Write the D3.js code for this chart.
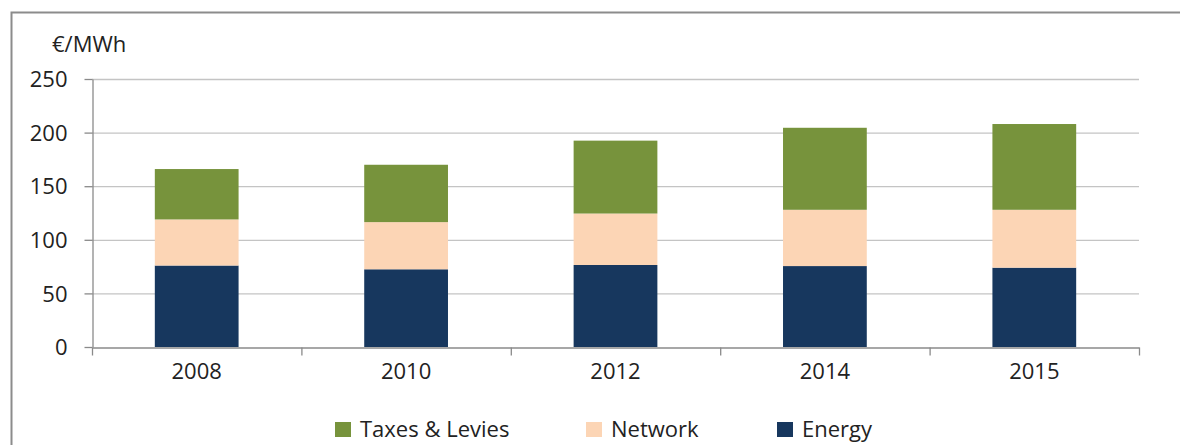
<!DOCTYPE html>
<html>
<head>
<meta charset="utf-8">
<script src="https://cdn.jsdelivr.net/npm/d3@7"></script>
<style>
  html, body { margin: 0; padding: 0; background: #fff; }
  svg { display: block; }
  text { font-family: "Open Sans", "Lato", sans-serif; fill: #222; }
</style>
</head>
<body>
<svg id="chart" width="1180" height="445"></svg>
<script>
const years = ["2008", "2010", "2012", "2014", "2015"];
const energy = [76, 72.5, 76.5, 75.5, 74];
const network = [43, 44, 48, 52.5, 54];
const taxes = [47, 53.5, 68, 76.5, 80];
const yTicks = [0, 50, 100, 150, 200, 250];
const seriesNames = ["Energy", "Network", "Taxes & Levies"];
const seriesColors = ["#17375E", "#FCD5B5", "#77933C"];
const unitLabel = "€/MWh";

(function () {
const svg = d3.select("#chart");
const W = 1180, H = 445;
const mLeft = 92, mRight = 1139, mTop = 79, mBottom = 347;

// frame
svg.append("path")
  .attr("d", `M11.5,${H} V12.5 H${W}`)
  .attr("fill", "none").attr("stroke", "#8c8c8c").attr("stroke-width", 2);

const x = d3.scaleBand().domain(years).range([mLeft, mRight]).padding(0);
const y = d3.scaleLinear().domain([0, 250]).range([mBottom, mTop]);

// gridlines
svg.append("g").selectAll("line").data(yTicks.filter(d => d > 0)).join("line")
  .attr("x1", mLeft).attr("x2", mRight)
  .attr("y1", d => y(d) + 0.5).attr("y2", d => y(d) + 0.5)
  .attr("stroke", "#c4c4c4").attr("stroke-width", 1.3);

// stacked data
const rows = years.map((yr, i) => ({ year: yr, Energy: energy[i], Network: network[i], "Taxes & Levies": taxes[i] }));
const stack = d3.stack().keys(seriesNames)(rows);
const color = d3.scaleOrdinal().domain(seriesNames).range(seriesColors);

const barW = x.bandwidth() * 0.4;
svg.append("g").selectAll("g").data(stack).join("g")
  .attr("fill", d => color(d.key))
  .selectAll("rect").data(d => d).join("rect")
  .attr("x", d => x(d.data.year) + (x.bandwidth() - barW) / 2)
  .attr("width", barW)
  .attr("y", d => y(d[1]))
  .attr("height", d => y(d[0]) - y(d[1]));

// y axis
const yAxis = d3.axisLeft(y).tickValues(yTicks).tickSize(8).tickPadding(17).tickSizeOuter(0);
const gy = svg.append("g").attr("transform", `translate(${mLeft + 0.5},0)`).call(yAxis);
gy.select(".domain").attr("stroke", "#8a8a8a").attr("stroke-width", 1.3);
gy.selectAll(".tick line").attr("stroke", "#8a8a8a").attr("stroke-width", 1.3);
gy.selectAll(".tick text").attr("font-size", 22).attr("font-family", "Open Sans").attr("fill", "#222").attr("dy", "0.35em");

// x axis
const xAxis = d3.axisBottom(x).tickSize(0).tickPadding(16).tickSizeOuter(0);
const gx = svg.append("g").attr("transform", `translate(0,${mBottom + 0.5})`).call(xAxis);
gx.select(".domain").attr("stroke", "#8a8a8a").attr("stroke-width", 1.3);
gx.selectAll(".tick text").attr("font-size", 22).attr("font-family", "Open Sans").attr("fill", "#222");
// category boundary ticks
const bounds = years.map(yv => x(yv)).concat([mRight]);
gx.append("g").selectAll("line").data(bounds).join("line")
  .attr("x1", d => d + 0.5).attr("x2", d => d + 0.5)
  .attr("y1", 0).attr("y2", 8)
  .attr("stroke", "#8a8a8a").attr("stroke-width", 1.3);

// unit label
svg.append("text").attr("x", 52).attr("y", 52).attr("font-size", 22).text(unitLabel);

// legend
const legendOrder = ["Taxes & Levies", "Network", "Energy"];
const legendX = [335, 586, 777];
const lg = svg.append("g").selectAll("g").data(legendOrder).join("g")
  .attr("transform", (d, i) => `translate(${legendX[i]},0)`);
lg.append("rect").attr("x", 0).attr("y", 422).attr("width", 16).attr("height", 15).attr("fill", d => color(d));
lg.append("text").attr("x", 25).attr("y", 437).attr("font-size", 22).text(d => d);
})();
</script>
</body>
</html>
